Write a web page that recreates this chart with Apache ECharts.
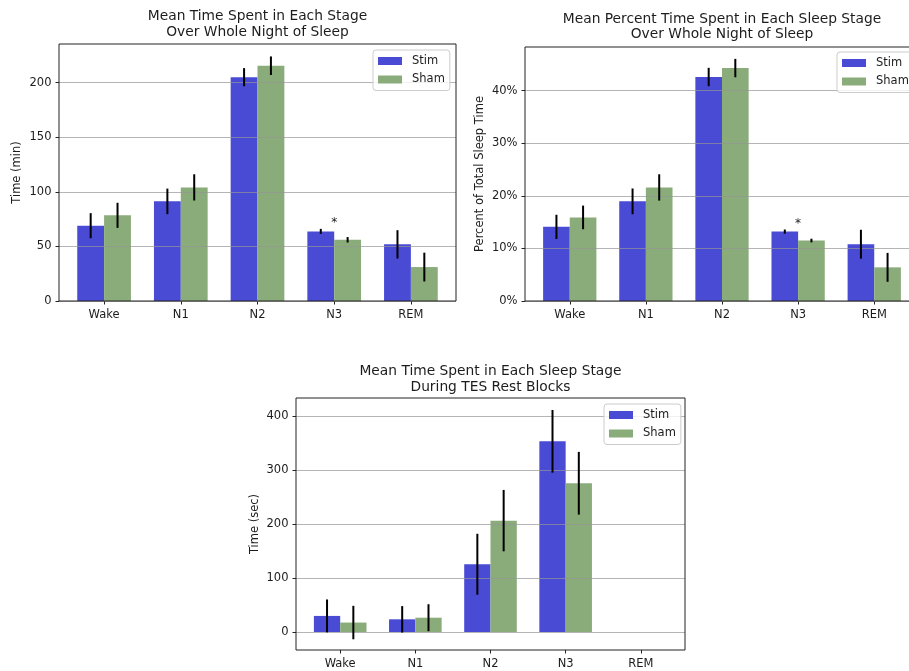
<!DOCTYPE html>
<html><head><meta charset="utf-8">
<script src="https://cdn.jsdelivr.net/npm/echarts@6/dist/echarts.min.js"></script>
<style>html,body{margin:0;padding:0;background:#fff}#c{width:909px;height:671px}</style>
</head><body><div id="c"></div>
<script>
// ---------- data ----------
const categories = ['Wake', 'N1', 'N2', 'N3', 'REM'];
const seriesNames = ['Stim', 'Sham'];

// Whole night, minutes
const stimTime    = [69.0, 91.3, 205.1, 63.8, 51.9];
const stimTimeErr = [11.5, 11.7, 8.3, 2.3, 13.0];
const shamTime    = [78.5, 104.1, 215.6, 56.1, 31.1];
const shamTimeErr = [11.5, 12.0, 8.5, 2.5, 13.2];
const sigTime     = ['N3'];
const yTicksTime  = [0, 50, 100, 150, 200];

// Whole night, percent of total sleep time
const stimPct    = [14.1, 18.95, 42.6, 13.2, 10.8];
const stimPctErr = [2.3, 2.45, 1.75, 0.4, 2.75];
const shamPct    = [15.9, 21.6, 44.3, 11.5, 6.4];
const shamPctErr = [2.25, 2.5, 1.75, 0.35, 2.75];
const sigPct     = ['N3'];
const yTicksPct  = [0, 10, 20, 30, 40];

// TES rest blocks, seconds
const stimRest    = [29.8, 23.5, 125.6, 353.6, 0];
const stimRestErr = [30.5, 24.5, 56.5, 58.1, 0];
const shamRest    = [17.5, 26.5, 206.5, 275.8, 0];
const shamRestErr = [31.0, 25.0, 56.9, 58.2, 0];
const sigRest     = [];
const yTicksRest  = [0, 100, 200, 300, 400];

// ---------- style / layout ----------
const FONT = 'DejaVu Sans';
const TXT = '#1c1c1c';
const BAR_W = 0.35;
const COLORS = { Stim: '#494bd5', Sham: '#8aac7a' };
const XMIN = -0.588, XMAX = 4.588;

const panels = [
  { title: 'Mean Time Spent in Each Stage\nOver Whole Night of Sleep', titleX: 257.5, titleTop: 8.9,
    yName: 'Time (min)', nameGap: 36,
    stim: stimTime, stimErr: stimTimeErr, sham: shamTime, shamErr: shamTimeErr, sig: sigTime,
    yMin: 0, yMax: 235.5, yTicks: yTicksTime, fmt: v => String(v),
    grid: { left: 59, top: 44, width: 397, height: 257 }, legend: { left: 373, top: 50 } },
  { title: 'Mean Percent Time Spent in Each Sleep Stage\nOver Whole Night of Sleep', titleX: 722, titleTop: 11.2,
    yName: 'Percent of Total Sleep Time', nameGap: 39,
    stim: stimPct, stimErr: stimPctErr, sham: shamPct, shamErr: shamPctErr, sig: sigPct,
    yMin: 0, yMax: 48.31, yTicks: yTicksPct, fmt: v => v + '%',
    grid: { left: 525, top: 47, width: 394, height: 254 }, legend: { left: 837, top: 52 } },
  { title: 'Mean Time Spent in Each Sleep Stage\nDuring TES Rest Blocks', titleX: 490.5, titleTop: 363.9,
    yName: 'Time (sec)', nameGap: 35,
    stim: stimRest, stimErr: stimRestErr, sham: shamRest, shamErr: shamRestErr, sig: sigRest,
    yMin: -33.4, yMax: 433.9, yTicks: yTicksRest, fmt: v => String(v),
    grid: { left: 296, top: 398, width: 389, height: 252 }, legend: { left: 604, top: 404 } }
];

function barRender(offset) {
  return function (params, api) {
    const x = api.value(0) + offset, y = api.value(1);
    if (!y) return { type: 'group', children: [] };
    const a = api.coord([x - BAR_W / 2, 0]);
    const b = api.coord([x + BAR_W / 2, y]);
    return { type: 'rect',
      shape: { x: a[0], y: Math.min(a[1], b[1]), width: b[0] - a[0], height: Math.abs(a[1] - b[1]) },
      style: api.style() };
  };
}
function errRender(params, api) {
  const x = api.value(0), v = api.value(1), e = api.value(2);
  if (!e) return { type: 'group', children: [] };
  const a = api.coord([x, v - e]), b = api.coord([x, v + e]);
  return { type: 'line', shape: { x1: a[0], y1: a[1], x2: b[0], y2: b[1] },
    style: { stroke: '#000', lineWidth: 2 } };
}
function starRender(params, api) {
  const p = api.coord([api.value(0), api.value(1)]);
  return { type: 'text', x: p[0], y: p[1] - 5.7,
    style: { text: '*', fill: TXT, fontSize: 12, fontFamily: FONT, align: 'center', verticalAlign: 'middle' } };
}

const option = { animation: false, backgroundColor: '#fff',
  title: [], grid: [], xAxis: [], yAxis: [], legend: [], series: [] };

panels.forEach((p, k) => {
  option.title.push({ text: p.title, left: p.titleX, top: p.titleTop, textAlign: 'center', padding: 0,
    textStyle: { fontFamily: FONT, fontSize: 13.8, fontWeight: 'normal', color: TXT, lineHeight: 15.6 } });
  option.grid.push(Object.assign({ show: true, borderColor: '#222', borderWidth: 1,
    backgroundColor: 'rgba(0,0,0,0)', z: 10, containLabel: false, outerBoundsMode: 'none' }, p.grid));
  option.xAxis.push({ gridIndex: k, type: 'value', min: XMIN, max: XMAX, position: 'bottom',
    axisLine: { show: false, onZero: false }, splitLine: { show: false },
    axisTick: { show: true, customValues: [0, 1, 2, 3, 4], length: 3.5, lineStyle: { color: '#222', width: 1 } },
    axisLabel: { customValues: [0, 1, 2, 3, 4], formatter: v => categories[Math.round(v)],
      margin: 8.5, fontSize: 11.5, fontFamily: FONT, color: TXT } });
  option.yAxis.push({ gridIndex: k, type: 'value', min: p.yMin, max: p.yMax, z: 3, position: 'left',
    axisLine: { show: false, onZero: false },
    axisTick: { show: true, customValues: p.yTicks, length: 3.5, lineStyle: { color: '#222', width: 1 } },
    axisLabel: { customValues: p.yTicks, formatter: p.fmt, margin: 7.5, fontSize: 11.5, fontFamily: FONT, color: TXT },
    splitLine: { show: true, lineStyle: { color: 'rgba(150,150,150,0.7)', width: 1 } },
    name: p.yName, nameLocation: 'middle', nameGap: p.nameGap,
    nameTextStyle: { fontSize: 11.5, fontFamily: FONT, color: TXT } });
  option.legend.push({ left: p.legend.left, top: p.legend.top, orient: 'vertical', data: seriesNames,
    selectedMode: false, icon: 'rect', itemWidth: 24, itemHeight: 8, itemGap: 6.5,
    padding: [5, 5, 5, 5], backgroundColor: 'rgba(255,255,255,0.8)', borderColor: '#cccccc',
    borderWidth: 1, borderRadius: 3, z: 20,
    textStyle: { fontSize: 11.5, fontFamily: FONT, color: TXT, padding: [0, 0, 0, 5] } });

  const groups = [
    { name: 'Stim', vals: p.stim, errs: p.stimErr, off: -BAR_W / 2 },
    { name: 'Sham', vals: p.sham, errs: p.shamErr, off: BAR_W / 2 }
  ];
  groups.forEach(g => {
    option.series.push({ type: 'custom', name: g.name, xAxisIndex: k, yAxisIndex: k, z: 2,
      itemStyle: { color: COLORS[g.name] }, renderItem: barRender(g.off), encode: { x: 0, y: 1 },
      data: categories.map((c, i) => [i, g.vals[i]]) });
  });
  groups.forEach(g => {
    option.series.push({ type: 'custom', name: g.name + ' SE', xAxisIndex: k, yAxisIndex: k, z: 6,
      renderItem: errRender, encode: { x: 0, y: 1 },
      data: categories.map((c, i) => [i + g.off, g.vals[i], g.errs[i]]) });
  });
  if (p.sig.length) {
    option.series.push({ type: 'custom', name: 'significance', xAxisIndex: k, yAxisIndex: k, z: 6,
      renderItem: starRender, encode: { x: 0, y: 1 },
      data: p.sig.map(s => {
        const i = categories.indexOf(s);
        return [i, Math.max(p.stim[i] + p.stimErr[i], p.sham[i] + p.shamErr[i])];
      }) });
  }
});

const chart = echarts.init(document.getElementById('c'), null, { renderer: 'canvas' });
chart.setOption(option);
</script></body></html>
